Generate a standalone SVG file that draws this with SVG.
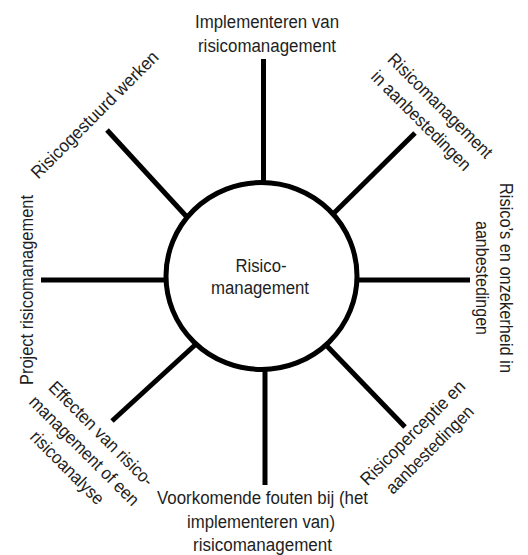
<svg xmlns="http://www.w3.org/2000/svg" width="528" height="555" viewBox="0 0 528 555">
<style>
text{font-family:"Liberation Sans",Arial,sans-serif;font-size:18px;fill:#1e1e1e;text-anchor:middle}
.spoke{stroke:#000;stroke-width:5;stroke-linecap:butt;fill:none}
</style>
<rect width="528" height="555" fill="#fff"/>
<g id="connectors">
<line class="spoke" x1="263.5" y1="59" x2="263.5" y2="183"/>
<line class="spoke" x1="265" y1="369" x2="265" y2="485"/>
<line class="spoke" x1="41" y1="280" x2="167" y2="280"/>
<line class="spoke" x1="356" y1="280" x2="470" y2="280"/>
<line class="spoke" x1="107" y1="130" x2="186" y2="216"/>
<line class="spoke" x1="415" y1="133" x2="333" y2="214"/>
<line class="spoke" x1="112" y1="421" x2="195" y2="345"/>
<line class="spoke" x1="405" y1="427" x2="326" y2="345"/>
</g>
<g id="center">
<ellipse cx="261.5" cy="276" rx="95.5" ry="93.5" fill="#fff" stroke="#000" stroke-width="5"/>
<text x="261" y="272" textLength="51" lengthAdjust="spacingAndGlyphs">Risico-</text>
<text x="260" y="294" textLength="98" lengthAdjust="spacingAndGlyphs">management</text>
</g>
<g id="n-top">
<text x="267" y="28" textLength="144" lengthAdjust="spacingAndGlyphs">Implementeren van</text>
<text x="267" y="52" textLength="138" lengthAdjust="spacingAndGlyphs">risicomanagement</text>
</g>
<g id="n-top-right" transform="translate(436,110) rotate(45)">
<text x="0" y="0" textLength="140" lengthAdjust="spacingAndGlyphs">Risicomanagement</text>
<text x="-3" y="24" textLength="133" lengthAdjust="spacingAndGlyphs">in aanbestedingen</text>
</g>
<g id="n-right" transform="translate(500,278) rotate(90)">
<text x="0" y="0" textLength="190" lengthAdjust="spacingAndGlyphs">Risico’s en onzekerheid  in</text>
<text x="0" y="24" textLength="114" lengthAdjust="spacingAndGlyphs">aanbestedingen</text>
</g>
<g id="n-bottom-right" transform="translate(417,437) rotate(-45)">
<text x="0" y="0" textLength="140" lengthAdjust="spacingAndGlyphs">Risicoperceptie  en</text>
<text x="0" y="24" textLength="116" lengthAdjust="spacingAndGlyphs">aanbestedingen</text>
</g>
<g id="n-bottom">
<text x="262.5" y="504" textLength="211" lengthAdjust="spacingAndGlyphs">Voorkomende fouten bij (het</text>
<text x="261" y="527.5" textLength="148" lengthAdjust="spacingAndGlyphs">implementeren van)</text>
<text x="262.5" y="550.5" textLength="139" lengthAdjust="spacingAndGlyphs">risicomanagement</text>
</g>
<g id="n-bottom-left" transform="translate(97,438) rotate(45)">
<text x="0" y="0" textLength="140" lengthAdjust="spacingAndGlyphs">Effecten van risico-</text>
<text x="0" y="24" textLength="147" lengthAdjust="spacingAndGlyphs">management of een</text>
<text x="0" y="48" textLength="96" lengthAdjust="spacingAndGlyphs">risicoanalyse</text>
</g>
<g id="n-left" transform="translate(33,290) rotate(-90)">
<text x="0" y="0" textLength="190" lengthAdjust="spacingAndGlyphs">Project risicomanagement</text>
</g>
<g id="n-top-left" transform="translate(99,119) rotate(-45)">
<text x="0" y="0" textLength="172" lengthAdjust="spacingAndGlyphs">Risicogestuurd  werken</text>
</g>
</svg>
